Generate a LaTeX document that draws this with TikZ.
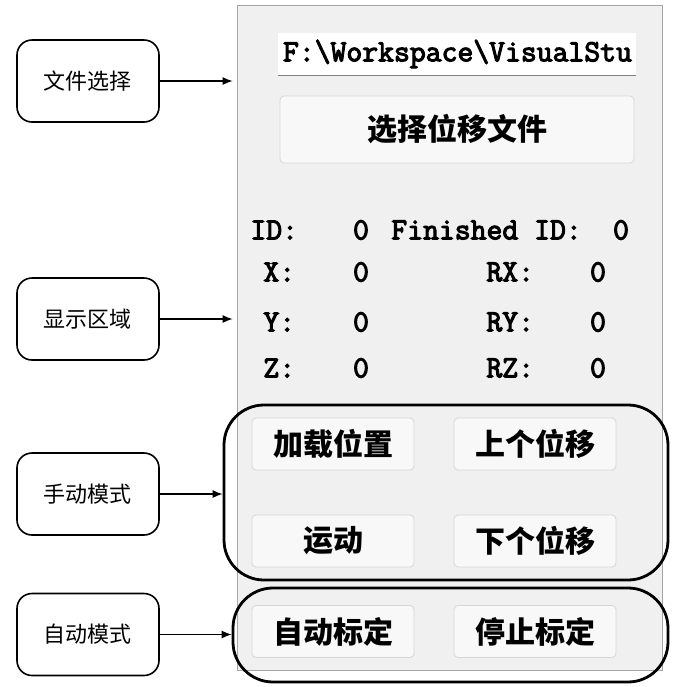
\documentclass[tikz,border=0pt]{standalone}
\usepackage{fontspec}
\newfontfamily\cjk{Noto Sans CJK SC}
\newfontfamily\monob{Latin Modern Mono}[FakeBold=3.5]
\usetikzlibrary{arrows.meta}
\definecolor{panelgray}{HTML}{F0F0F0}
\definecolor{btngray}{HTML}{F8F8F8}
\definecolor{btnline}{HTML}{D6D6D6}
\tikzset{tag/.style={draw, line width=0.8pt, rounded corners=7.5pt, minimum width=71pt, minimum height=41pt, font=\cjk\fontsize{11}{13}\selectfont}}
\tikzset{btn/.style={draw=btnline, fill=btngray, rounded corners=2pt, minimum width=81pt, minimum height=26pt, font=\cjk\bfseries\fontsize{15}{17}\selectfont}}
\tikzset{group/.style={draw, line width=1.4pt, rounded corners=20pt, inner sep=0pt}}
\tikzset{val/.style={font=\monob\fontsize{15.4}{17}\selectfont, inner sep=0pt}}
\tikzset{arr/.style={-{Latex[length=5pt,width=4pt]}, line width=0.6pt}}

\begin{document}
\begin{tikzpicture}[x=0.5pt, y=-0.5pt]
    \useasboundingbox[fill=white] (0,0) rectangle (675,687);
    % the window
    \node[draw=gray!70, fill=panelgray, minimum width=212.5pt, minimum height=332.5pt] (panel) at (449.5,337.5) {};
    \node[fill=white, minimum width=179pt, minimum height=21pt] (path) at (457,54) {};
    \draw[gray] (path.south west) -- (path.south east);
    \begin{scope}
      \clip (path.south west) rectangle (path.north east);
      \node[val, anchor=west] (pathtxt) at ([xshift=2.5pt]path.west) {F:\textbackslash Workspace\textbackslash VisualStu};
    \end{scope}
    \node[btn, minimum width=177pt, minimum height=33.5pt] (choose) at (457,129.5) {选择位移文件};

    % display area
    \node[val, anchor=west] (idlab) at (250,230) {ID:};
    \node[val] (idval) at (361,230) {0};
    \node[val, anchor=west] (finlab) at (391,230) {Finished ID:};
    \node[val] (finval) at (621,230) {0};
    \foreach \a/\y in {X/272,Y/322,Z/368} {
      \node[val, anchor=west] (lab\a) at (263,\y) {\a:};
      \node[val] (val\a) at (361,\y) {0};
      \node[val, anchor=west] (labR\a) at (486,\y) {R\a:};
      \node[val] (valR\a) at (598,\y) {0};
    }

    % groups
    \node[group, minimum width=222pt, minimum height=87.5pt] (manual) at (446,492.5) {};
    \node[group, minimum width=217.5pt, minimum height=47pt] (auto) at (450.5,635) {};
    \node[btn] (load) at (333,444) {加载位置};
    \node[btn] (prev) at (535,444) {上个位移};
    \node[btn] (move) at (333,541) {运动};
    \node[btn] (next) at (535,541) {下个位移};
    \node[btn] (autocal) at (333,631.5) {自动标定};
    \node[btn] (stopcal) at (535,631.5) {停止标定};

    % labels on the left
    \node[tag] (fileSel) at (88,81) {文件选择};
    \node[tag] (showArea) at (88,319) {显示区域};
    \node[tag] (manMode) at (88,494) {手动模式};
    \node[tag] (autoMode) at (88,634.5) {自动模式};
    \draw[arr] (fileSel.east) -- ([xshift=-2pt]fileSel.east -| panel.west);
    \draw[arr] (showArea.east) -- ([xshift=-2pt]showArea.east -| panel.west);
    \draw[arr] (manMode.east) -- (manMode.east -| manual.west);
    \draw[arr] (autoMode.east) -- (autoMode.east -| auto.west);
\end{tikzpicture}
\end{document}
